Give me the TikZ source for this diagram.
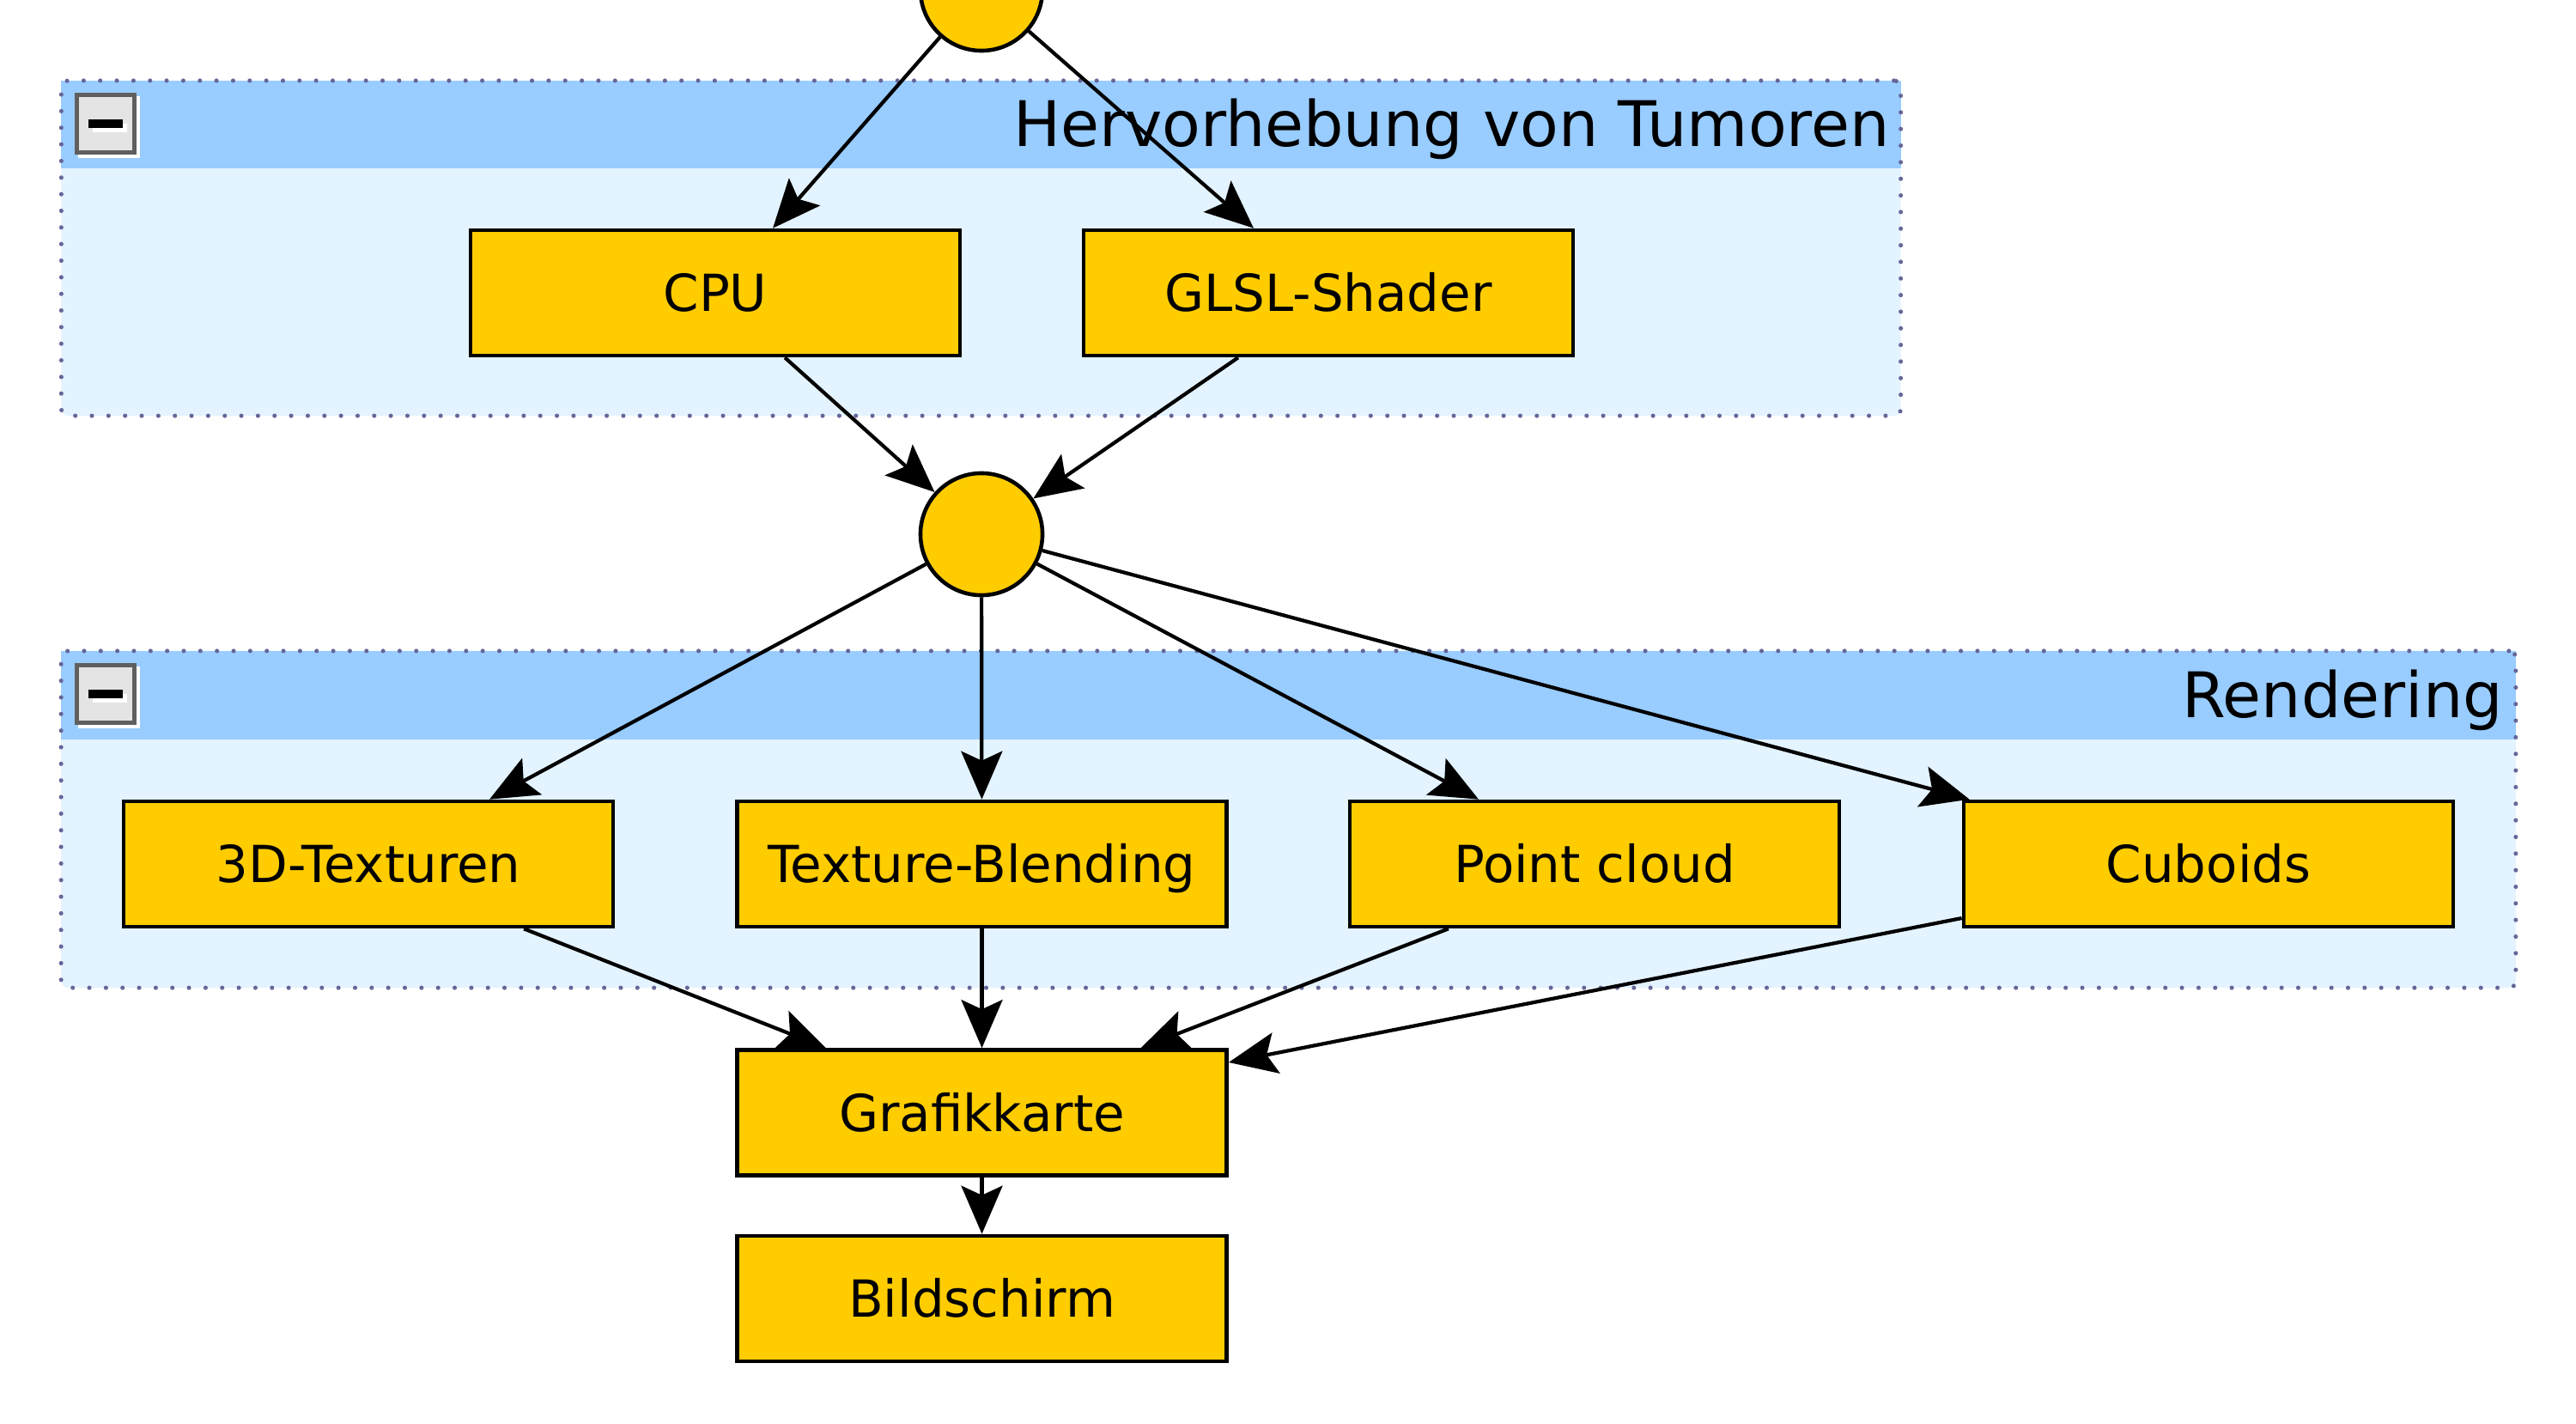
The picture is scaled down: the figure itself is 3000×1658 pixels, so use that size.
\documentclass[tikz,border=0pt]{standalone}
\usepackage{fontspec}
\setmainfont{DejaVu Sans}
\usetikzlibrary{arrows.meta}

\definecolor{boxfill}{HTML}{FFCC00}
\definecolor{headfill}{HTML}{99CCFF}
\definecolor{groupfill}{HTML}{E3F3FF}
\definecolor{groupline}{HTML}{666699}
\definecolor{btnfill}{HTML}{E4E4E4}
\definecolor{btnline}{HTML}{5F5F5F}

\tikzset{
  stage/.style={rectangle, draw, line width=1.3pt, fill=boxfill,
    minimum width=5.7cm, minimum height=1.46cm, inner sep=0pt,
    font=\fontsize{16.9}{20}\selectfont, text height=12.3pt, text depth=0pt},
  junction/.style={circle, draw, line width=1.3pt, fill=boxfill,
    minimum size=1.42cm, inner sep=0pt},
  groupbody/.style={rectangle, fill=groupfill, rounded corners=0.08cm, inner sep=0pt},
  grouphead/.style={rectangle, fill=headfill, inner sep=0pt},
  groupframe/.style={rectangle, draw=groupline, line width=1.45pt, line cap=round,
    dash pattern=on 0pt off 5.5pt, rounded corners=0.08cm, inner sep=0pt},
  grouptitle/.style={inner sep=0pt, font=\fontsize{20.8}{24}\selectfont},
  btnshade/.style={rectangle, draw=white, line width=1.4pt, minimum size=0.67cm, inner sep=0pt},
  groupbtn/.style={rectangle, fill=btnfill, draw=btnline, line width=1.4pt,
    minimum size=0.67cm, inner sep=0pt},
  btnbar/.style={rectangle, fill=black, minimum width=0.39cm, minimum height=0.1cm, inner sep=0pt},
  barshade/.style={rectangle, fill=white, minimum width=0.39cm, minimum height=0.1cm, inner sep=0pt},
  flow/.style={-{Stealth[length=0.56cm, width=0.48cm, inset=0.11cm]}, line width=1.2pt}
}

\begin{document}
\begin{tikzpicture}[x=0.01cm, y=-0.01cm]
  \useasboundingbox (0,0) rectangle (3000,1658);

  % group: Hervorhebung von Tumoren
  \node[groupbody, minimum width=21.41cm, minimum height=3.9cm] (tumor) at (1142.5,289) {};
  \node[grouphead, minimum width=21.41cm, minimum height=1.02cm, anchor=north] (tumorhead) at (tumor.north) {};
  \node[groupframe, minimum width=21.41cm, minimum height=3.9cm] (tumorframe) at (tumor) {};
  \node[btnshade] (tumorshade) at (127,148) {};
  \node[groupbtn] (tumorbtn) at (123,144) {};
  \node[barshade] (tumorbarshade) at ([xshift=0.05cm, yshift=-0.05cm]tumorbtn) {};
  \node[btnbar] (tumorbar) at (tumorbtn) {};
  \node[grouptitle, anchor=base east] (tumortitle) at ([xshift=-0.13cm, yshift=-0.77cm]tumor.north east) {Hervorhebung von Tumoren};

  % group: Rendering
  \node[groupbody, minimum width=28.57cm, minimum height=3.92cm] (render) at (1500.5,954) {};
  \node[grouphead, minimum width=28.57cm, minimum height=1.03cm, anchor=north] (renderhead) at (render.north) {};
  \node[groupframe, minimum width=28.57cm, minimum height=3.92cm] (renderframe) at (render) {};
  \node[btnshade] (rendershade) at (127,812) {};
  \node[groupbtn] (renderbtn) at (123,808) {};
  \node[barshade] (renderbarshade) at ([xshift=0.05cm, yshift=-0.05cm]renderbtn) {};
  \node[btnbar] (renderbar) at (renderbtn) {};
  \node[grouptitle, anchor=base east] (rendertitle) at ([xshift=-0.15cm, yshift=-0.78cm]render.north east) {Rendering};

  % nodes
  \node[junction] (top) at (1143,-12) {};
  \node[stage] (cpu) at (833,341) {CPU};
  \node[stage] (glsl) at (1547,341) {GLSL-Shader};
  \node[junction] (mid) at (1143,622) {};
  \node[stage] (tex3d) at (429,1006) {3D-Texturen};
  \node[stage] (blend) at (1143.5,1006) {Texture-Blending};
  \node[stage] (points) at (1857,1006) {Point cloud};
  \node[stage] (cuboids) at (2572,1006) {Cuboids};
  \node[stage] (gpu) at (1143.5,1295.5) {Grafikkarte};
  \node[stage] (screen) at (1143.5,1512) {Bildschirm};

  % edges
  \draw[flow] (top) -- ([xshift=0.67cm]cpu.north);
  \draw[flow] (top) -- ([xshift=-0.87cm]glsl.north);
  \draw[flow] ([xshift=0.81cm]cpu.south) -- (mid);
  \draw[flow] ([xshift=-1.05cm]glsl.south) -- (mid);
  \draw[flow] (mid) -- ([xshift=1.41cm]tex3d.north);
  \draw[flow] (mid) -- (blend);
  \draw[flow] (mid) -- ([xshift=-1.35cm]points.north);
  \draw[flow] (mid) -- ([xshift=0.09cm]cuboids.north west);
  \draw[flow] ([xshift=1.81cm]tex3d.south) -- ([xshift=-1.815cm]gpu.north);
  \draw[flow] (blend) -- (gpu);
  \draw[flow] ([xshift=-1.70cm]points.south) -- ([xshift=1.85cm]gpu.north);
  \draw[flow] ([yshift=-0.63cm]cuboids.west) -- ([yshift=0.585cm]gpu.east);
  \draw[flow] (gpu) -- (screen);
\end{tikzpicture}
\end{document}
